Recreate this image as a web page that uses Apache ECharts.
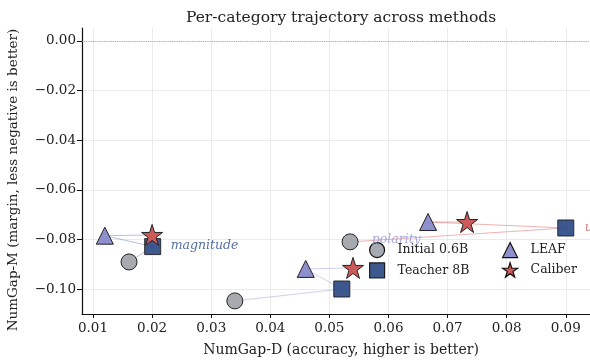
<!DOCTYPE html>
<html><head><meta charset="utf-8">
<script src="https://cdn.jsdelivr.net/npm/echarts@6/dist/echarts.min.js"></script>
<style>html,body{margin:0;padding:0;background:#fff}#c{width:590px;height:360px}</style>
</head><body><div id="c"></div>
<script>
const categories = ['magnitude', 'polarity', 'unit'];
const initialX = [0.0161, 0.0340, 0.0535];
const initialY = [-0.0891, -0.1048, -0.0810];
const teacherX = [0.0201, 0.0521, 0.0900];
const teacherY = [-0.0829, -0.1000, -0.0754];
const leafX = [0.0120, 0.0460, 0.0667];
const leafY = [-0.0785, -0.0919, -0.0730];
const caliberX = [0.0200, 0.0540, 0.0733];
const caliberY = [-0.0782, -0.0915, -0.0730];
const xTicks = [0.01, 0.02, 0.03, 0.04, 0.05, 0.06, 0.07, 0.08, 0.09];
const yTicks = [0.00, -0.02, -0.04, -0.06, -0.08, -0.10];
const methods = ['Initial 0.6B', 'Teacher 8B', 'LEAF', 'Caliber'];

const FONT = 'DejaVu Serif';
const catColors = ['#2b4a8b', '#9294d4', '#d0605f'];
const lineColors = ['rgba(120,140,200,0.55)', 'rgba(160,160,220,0.5)', 'rgba(225,130,130,0.6)'];
const labelOffsets = [[13, -1], [25, -49], [14, 0]];
const STAR = 'path://M50,0 L61.2,34.5 L97.6,34.5 L68.2,55.9 L79.4,90.5 L50,69.1 L20.6,90.5 L31.8,55.9 L2.4,34.5 L38.8,34.5 Z';
const methodStyle = [
  {symbol: 'circle', size: 16, color: '#a7abb0', opacity: 1},
  {symbol: 'rect', size: 16, color: '#2c4a86', opacity: 0.92},
  {symbol: 'triangle', size: 17, color: '#8d90cc', opacity: 1},
  {symbol: STAR, size: 21, color: '#cd5a5a', opacity: 1}
];
const methodX = [initialX, teacherX, leafX, caliberX];
const methodY = [initialY, teacherY, leafY, caliberY];

const series = [];
categories.forEach((c, i) => {
  series.push({
    type: 'line', name: 'traj-' + c, silent: true,
    data: methodX.map((xs, m) => [xs[i], methodY[m][i]]),
    symbol: 'none', lineStyle: {color: lineColors[i], width: 1}, z: 1,
    markLine: i === 0 ? {
      silent: true, symbol: 'none', label: {show: false},
      lineStyle: {color: '#999', type: [1, 1.2], width: 0.8},
      data: [{yAxis: 0}]
    } : undefined
  });
});
methods.forEach((m, k) => {
  const st = methodStyle[k];
  series.push({
    type: 'scatter', name: m, z: 3 + k,
    symbol: st.symbol, symbolSize: st.size,
    itemStyle: {color: st.color, opacity: st.opacity, borderColor: '#222', borderWidth: 1},
    data: categories.map((c, i) => [methodX[k][i], methodY[k][i]])
  });
});
series.push({
  type: 'scatter', name: 'labels', silent: true, symbolSize: 0, z: 10,
  data: categories.map((c, i) => ({
    value: [teacherX[i], teacherY[i]],
    label: {show: true, position: 'right', formatter: c, offset: labelOffsets[i],
      color: catColors[i], fontStyle: 'italic', fontFamily: FONT, fontSize: 12.5}
  }))
});

const legendCommon = {
  orient: 'vertical', itemWidth: 15, itemHeight: 15, itemGap: 4,
  itemStyle: {borderWidth: 1.2, borderColor: '#111'},
  textStyle: {fontFamily: FONT, fontSize: 12.5, color: '#222', padding: [0, 0, 0, 8]}
};
const option = {
  animation: false,
  backgroundColor: '#fff',
  title: [{
    text: 'Per-category trajectory across methods', left: 336, textAlign: 'center', top: 5,
    textStyle: {fontFamily: FONT, fontSize: 15.5, fontWeight: 'normal', color: '#222'}
  }, {
    text: 'NumGap-D (accuracy, higher is better)', left: 336, textAlign: 'center', top: 338,
    textStyle: {fontFamily: FONT, fontSize: 14, fontWeight: 'normal', color: '#222'}
  }],
  graphic: [{
    type: 'text', x: 6, y: 180, rotation: Math.PI / 2,
    style: {text: 'NumGap-M (margin, less negative is better)', font: '13.5px "DejaVu Serif"',
      fill: '#222', align: 'center', verticalAlign: 'top'}
  }],
  legend: [
    Object.assign({left: 364, top: 237, data: methods.slice(0, 2)}, legendCommon),
    Object.assign({left: 497, top: 237, data: methods.slice(2)}, legendCommon)
  ],
  grid: {left: 82, right: 0, top: 28, bottom: 46},
  xAxis: {
    type: 'value', min: 0.008139, max: 0.0941,
    axisLine: {show: true, onZero: false, lineStyle: {color: '#111', width: 1.2}},
    axisTick: {show: true, customValues: xTicks, length: 4, lineStyle: {color: '#111'}},
    axisLabel: {customValues: xTicks, formatter: v => v.toFixed(2), fontFamily: FONT, fontSize: 13.5, color: '#222', margin: 7},
    splitLine: {show: true, lineStyle: {color: '#ebebeb', width: 1}}
  },
  yAxis: {
    type: 'value', min: -0.11008, max: 0.00524,
    axisLine: {show: true, onZero: false, lineStyle: {color: '#111', width: 1.2}},
    axisTick: {show: true, customValues: yTicks, length: 5, lineStyle: {color: '#111'}},
    axisLabel: {customValues: yTicks, formatter: v => (v < -1e-9 ? '\u2212' : '') + Math.abs(v).toFixed(2), fontFamily: FONT, fontSize: 13.5, color: '#222', margin: 6},
    splitLine: {show: true, lineStyle: {color: '#ebebeb', width: 1}}
  },
  series: series
};
const chart = echarts.init(document.getElementById('c'), null, {renderer: 'canvas'});
chart.setOption(option);
</script></body></html>
